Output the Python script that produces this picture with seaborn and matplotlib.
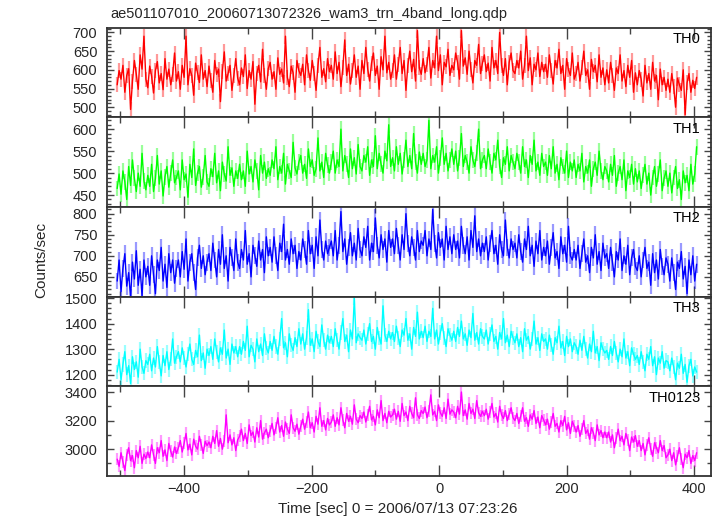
import numpy as np
import pandas as pd
import matplotlib
matplotlib.use("Agg")
import matplotlib.pyplot as plt
from matplotlib.ticker import MultipleLocator, FuncFormatter
import seaborn as sns

# time bins (sec), 3 s sampling
time = np.arange(-505, 405, 3)

th0 = [560, 598, 575, 612, 540, 585, 603, 494, 570, 625, 588, 548, 640, 602, 690, 575,
       552, 610, 583, 538, 598, 622, 565, 590, 547, 630, 575, 602, 560, 588, 645, 570,
       595, 548, 612, 580, 690, 560, 603, 585, 532, 618, 592, 566, 640, 575, 598, 555,
       610, 572, 540, 625, 588, 602, 515, 596, 648, 570, 590, 612, 545, 585, 630, 578,
       560, 605, 582, 640, 550, 598, 575, 622, 508, 590, 612, 568, 655, 585, 548, 603,
       620, 575, 595, 548, 632, 588, 602, 565, 690, 580, 555, 610, 592, 540, 625, 598,
       585, 615, 560, 640, 598, 572, 625, 590, 545, 612, 660, 580, 603, 568, 630, 595,
       612, 575, 648, 590, 620, 555, 605, 680, 585, 615, 562, 598, 640, 580, 610, 548,
       625, 590, 660, 602, 570, 618, 645, 585, 610, 548, 635, 600, 690, 592, 620, 575,
       598, 640, 575, 615, 660, 590, 625, 545, 612, 650, 595, 628, 570, 705, 605, 588,
       630, 592, 615, 660, 578, 625, 605, 690, 598, 640, 560, 620, 608, 655, 585, 612,
       600, 645, 620, 575, 705, 610, 632, 588, 650, 600, 565, 625, 612, 668, 590, 618,
       640, 595, 618, 570, 660, 605, 625, 590, 700, 612, 585, 630, 560, 620, 645, 598,
       590, 625, 605, 650, 575, 612, 690, 598, 632, 560, 615, 600, 645, 582, 620, 595,
       615, 580, 640, 598, 562, 625, 605, 655, 590, 612, 548, 630, 600, 585, 645, 575,
       590, 620, 570, 605, 650, 585, 600, 548, 628, 595, 612, 568, 640, 580, 605, 560,
       600, 565, 620, 585, 545, 605, 590, 640, 570, 598, 555, 612, 580, 625, 540, 592,
       560, 598, 575, 530, 612, 565, 590, 548, 620, 570, 585, 520, 602, 560, 580, 545,
       575, 540, 590, 555, 500, 578, 560, 545, 600, 480, 565, 590, 540, 572, 550, 580]

th1 = [465, 498, 452, 505, 480, 440, 515, 472, 530, 488, 458, 500, 470, 545, 482, 462,
       495, 470, 520, 458, 488, 540, 475, 505, 448, 492, 515, 468, 500, 530, 478, 490,
       505, 462, 530, 485, 498, 445, 520, 490, 555, 472, 500, 515, 468, 492, 540, 480,
       470, 510, 492, 545, 478, 505, 460, 525, 498, 482, 560, 495, 512, 470, 505, 488,
       520, 485, 505, 470, 550, 498, 515, 480, 530, 505, 462, 540, 500, 525, 488, 510,
       495, 530, 510, 560, 485, 515, 500, 545, 475, 520, 505, 490, 570, 512, 498, 525,
       540, 500, 520, 488, 555, 515, 530, 495, 510, 580, 505, 525, 490, 545, 518, 500,
       525, 550, 500, 530, 515, 600, 505, 540, 520, 490, 555, 510, 535, 498, 565, 515,
       505, 540, 525, 560, 495, 530, 515, 585, 510, 545, 520, 500, 550, 528, 610, 515,
       535, 505, 560, 520, 545, 498, 530, 575, 515, 540, 510, 590, 525, 500, 548, 520,
       545, 515, 530, 620, 510, 540, 525, 560, 500, 535, 580, 520, 545, 505, 530, 555,
       520, 550, 505, 535, 590, 515, 540, 525, 500, 560, 530, 515, 545, 600, 510, 530,
       540, 510, 555, 525, 500, 545, 530, 575, 515, 490, 535, 520, 560, 505, 540, 525,
       510, 545, 525, 500, 560, 515, 530, 490, 540, 520, 575, 505, 525, 495, 545, 515,
       525, 495, 540, 510, 560, 500, 520, 485, 535, 515, 500, 550, 490, 525, 505, 530,
       490, 520, 505, 545, 480, 515, 500, 530, 470, 510, 525, 495, 550, 505, 485, 515,
       505, 480, 520, 495, 540, 470, 500, 515, 485, 530, 460, 505, 490, 520, 475, 510,
       480, 505, 465, 495, 520, 475, 500, 450, 490, 515, 470, 498, 530, 460, 488, 505,
       470, 500, 455, 490, 515, 465, 485, 440, 505, 478, 495, 460, 520, 475, 498, 560]

th2 = [640, 690, 615, 670, 705, 628, 660, 600, 685, 645, 712, 630, 668, 605, 690, 650,
       675, 630, 700, 655, 610, 690, 665, 720, 640, 680, 625, 705, 660, 690, 635, 670,
       690, 650, 710, 668, 740, 640, 685, 705, 660, 620, 695, 725, 670, 700, 655, 685,
       705, 665, 730, 690, 650, 715, 680, 750, 670, 700, 640, 720, 695, 665, 740, 685,
       670, 715, 690, 760, 680, 705, 650, 725, 700, 675, 735, 690, 715, 660, 745, 700,
       720, 685, 745, 700, 665, 730, 710, 775, 690, 715, 680, 740, 705, 725, 670, 710,
       690, 740, 715, 680, 760, 705, 725, 670, 745, 700, 785, 715, 690, 735, 705, 720,
       735, 700, 760, 690, 725, 805, 710, 740, 680, 720, 755, 700, 730, 690, 765, 715,
       700, 745, 720, 770, 690, 730, 710, 790, 725, 695, 750, 715, 740, 685, 760, 720,
       740, 705, 765, 725, 690, 750, 715, 800, 730, 700, 745, 720, 690, 760, 710, 735,
       725, 760, 700, 740, 715, 810, 730, 695, 755, 720, 740, 690, 770, 715, 745, 705,
       750, 715, 735, 695, 770, 725, 705, 745, 690, 760, 720, 795, 710, 740, 700, 730,
       710, 745, 690, 730, 760, 705, 725, 680, 750, 715, 700, 785, 720, 695, 740, 715,
       730, 695, 750, 710, 685, 740, 715, 770, 700, 725, 675, 735, 705, 760, 690, 720,
       700, 735, 680, 720, 755, 695, 710, 670, 745, 705, 725, 685, 770, 700, 690, 715,
       690, 725, 670, 705, 740, 685, 700, 660, 720, 695, 750, 680, 710, 665, 730, 695,
       705, 670, 720, 685, 650, 710, 690, 740, 665, 700, 680, 725, 655, 695, 715, 675,
       665, 700, 650, 690, 720, 670, 685, 630, 705, 660, 690, 645, 715, 675, 655, 695,
       680, 640, 695, 660, 620, 685, 670, 710, 645, 675, 610, 690, 655, 700, 640, 680]

th3 = [1210, 1260, 1180, 1240, 1290, 1200, 1235, 1165, 1270, 1220, 1250, 1190, 1300, 1230, 1205, 1255,
       1240, 1280, 1215, 1265, 1230, 1310, 1250, 1195, 1275, 1235, 1290, 1220, 1260, 1340, 1245, 1270,
       1290, 1250, 1305, 1265, 1230, 1280, 1320, 1260, 1240, 1295, 1270, 1355, 1255, 1285, 1225, 1300,
       1275, 1310, 1260, 1340, 1290, 1250, 1305, 1280, 1375, 1265, 1300, 1240, 1320, 1285, 1310, 1270,
       1310, 1280, 1330, 1295, 1390, 1270, 1315, 1300, 1250, 1340, 1290, 1320, 1275, 1360, 1305, 1285,
       1330, 1295, 1350, 1310, 1280, 1340, 1420, 1305, 1325, 1270, 1360, 1315, 1295, 1345, 1310, 1380,
       1320, 1360, 1300, 1345, 1455, 1315, 1340, 1290, 1370, 1330, 1310, 1395, 1335, 1300, 1355, 1325,
       1350, 1310, 1380, 1335, 1300, 1365, 1420, 1330, 1355, 1290, 1375, 1340, 1500, 1325, 1360, 1345,
       1335, 1375, 1320, 1360, 1400, 1330, 1350, 1300, 1385, 1345, 1320, 1470, 1355, 1330, 1370, 1340,
       1365, 1330, 1390, 1345, 1310, 1375, 1355, 1420, 1335, 1360, 1300, 1385, 1350, 1445, 1340, 1370,
       1345, 1390, 1330, 1370, 1350, 1460, 1340, 1375, 1320, 1365, 1400, 1345, 1310, 1380, 1355, 1335,
       1370, 1330, 1385, 1350, 1410, 1340, 1360, 1315, 1375, 1345, 1440, 1335, 1365, 1320, 1380, 1350,
       1340, 1375, 1320, 1360, 1395, 1330, 1350, 1300, 1365, 1340, 1420, 1325, 1355, 1310, 1370, 1345,
       1325, 1360, 1310, 1345, 1290, 1380, 1335, 1350, 1300, 1340, 1410, 1320, 1345, 1295, 1360, 1330,
       1340, 1300, 1355, 1315, 1280, 1345, 1325, 1390, 1305, 1330, 1275, 1350, 1310, 1340, 1290, 1325,
       1310, 1280, 1335, 1295, 1350, 1300, 1265, 1320, 1290, 1370, 1285, 1310, 1255, 1325, 1300, 1285,
       1295, 1260, 1310, 1275, 1330, 1285, 1250, 1300, 1270, 1340, 1265, 1290, 1235, 1305, 1280, 1260,
       1275, 1240, 1290, 1250, 1215, 1280, 1260, 1310, 1235, 1270, 1200, 1265, 1245, 1290, 1225, 1255,
       1250, 1215, 1265, 1230, 1180, 1245, 1225, 1280, 1205, 1240, 1170, 1235, 1260, 1195, 1230, 1210]

th0123 = [2930, 2880, 2975, 2910, 2850, 2960, 3010, 2920, 2955, 2870, 2990, 2940, 3020, 2900, 2965, 2935,
          2980, 2940, 3030, 2960, 2900, 3010, 2975, 3060, 2950, 2995, 2920, 3040, 2985, 2945, 3015, 2970,
          3010, 3060, 2980, 3040, 3110, 2995, 3035, 2960, 3070, 3020, 3000, 3090, 3030, 2970, 3055, 3025,
          3050, 3010, 3090, 3040, 3130, 3020, 3075, 3000, 3060, 3240, 3045, 3100, 3030, 3080, 2990, 3065,
          3090, 3140, 3060, 3110, 3040, 3170, 3095, 3120, 3050, 3150, 3085, 3200, 3070, 3115, 3140, 3080,
          3130, 3180, 3100, 3150, 3220, 3120, 3165, 3090, 3190, 3140, 3110, 3240, 3150, 3125, 3175, 3105,
          3160, 3210, 3140, 3190, 3260, 3150, 3185, 3120, 3230, 3175, 3290, 3160, 3200, 3135, 3215, 3170,
          3190, 3240, 3160, 3220, 3170, 3290, 3205, 3150, 3250, 3195, 3230, 3175, 3310, 3210, 3185, 3235,
          3215, 3260, 3190, 3240, 3300, 3205, 3230, 3170, 3275, 3220, 3340, 3200, 3250, 3185, 3265, 3225,
          3240, 3280, 3210, 3265, 3195, 3320, 3235, 3260, 3200, 3300, 3250, 3220, 3360, 3240, 3215, 3270,
          3250, 3295, 3220, 3270, 3380, 3240, 3265, 3200, 3310, 3255, 3230, 3290, 3215, 3350, 3245, 3275,
          3260, 3220, 3300, 3245, 3400, 3235, 3275, 3210, 3320, 3250, 3280, 3215, 3340, 3255, 3230, 3265,
          3235, 3280, 3210, 3260, 3320, 3225, 3250, 3190, 3300, 3240, 3215, 3270, 3200, 3245, 3290, 3220,
          3200, 3250, 3180, 3230, 3290, 3195, 3220, 3160, 3240, 3210, 3270, 3180, 3225, 3150, 3235, 3205,
          3170, 3210, 3140, 3190, 3250, 3160, 3180, 3120, 3200, 3165, 3230, 3135, 3185, 3110, 3195, 3160,
          3120, 3165, 3090, 3140, 3200, 3110, 3135, 3070, 3150, 3115, 3060, 3170, 3100, 3130, 3080, 3120,
          3080, 3120, 3050, 3100, 3010, 3075, 3140, 3060, 3090, 3030, 3110, 3065, 2990, 3085, 3050, 3095,
          3020, 3060, 2990, 3040, 2960, 3030, 3080, 3000, 2950, 3045, 3010, 2975, 3060, 2990, 3025, 2940,
          2960, 3000, 2920, 2975, 2890, 2950, 3010, 2930, 2870, 2965, 2940, 2990, 2900, 2955, 2920, 2975]

bands = ["TH0", "TH1", "TH2", "TH3", "TH0123"]
series = [th0, th1, th2, th3, th0123]
errors = [20, 18, 20, 28, 42]
colors = ["#ff0000", "#00ff00", "#0000ff", "#00ffff", "#ff00ff"]
ylims = [(473, 713), (423, 627), (603, 816), (1154, 1506), (2812, 3440)]
ymajor = [50, 50, 50, 100, 200]
yminor = [10, 10, 10, 20, 100]

sns.set_style("white")
plt.rcParams["font.family"] = ["Liberation Sans", "DejaVu Sans"]

fig = plt.figure(figsize=(7.2, 5.16), dpi=100)
gs = fig.add_gridspec(5, 1, left=0.1486, right=0.987, top=0.9465,
                      bottom=0.0775, hspace=0)
axes = [fig.add_subplot(gs[i]) for i in range(5)]

for i, ax in enumerate(axes):
    vals = series[i]
    df = pd.DataFrame({"t": time[:len(vals)], "rate": vals})
    ax.errorbar(df["t"], df["rate"], yerr=errors[i], fmt="none",
                ecolor=colors[i], alpha=0.4, lw=1.6)
    sns.lineplot(data=df, x="t", y="rate", ax=ax, color=colors[i],
                 lw=1.0, estimator=None)
    ax.set_xlim(-521, 426)
    ax.set_ylim(*ylims[i])
    ax.set_xlabel("")
    ax.set_ylabel("")
    ax.yaxis.set_major_locator(MultipleLocator(ymajor[i]))
    ax.yaxis.set_minor_locator(MultipleLocator(yminor[i]))
    ax.xaxis.set_major_locator(MultipleLocator(200))
    ax.xaxis.set_minor_locator(MultipleLocator(100))
    ax.tick_params(which="both", direction="in", top=True, right=True,
                   bottom=True, left=True, color="#444444", width=1.0)
    ax.tick_params(axis="y", which="major", length=5, labelsize=10.5, pad=7)
    ax.tick_params(axis="y", which="minor", length=3)
    ax.tick_params(axis="x", which="major", length=8, labelsize=10.5, pad=4.5)
    ax.tick_params(axis="x", which="minor", length=4)
    ax.yaxis.set_major_formatter(FuncFormatter(lambda v, p: f"{int(round(v))}"))
    for sp in ax.spines.values():
        sp.set_color("#333333")
        sp.set_linewidth(1.3)
    ax.text(0.983, 0.95, bands[i], transform=ax.transAxes, ha="right",
            va="top", fontsize=10.5, color="black")
    if i < 4:
        ax.tick_params(axis="x", labelbottom=False)
    else:
        ax.xaxis.set_major_formatter(
            FuncFormatter(lambda v, p: f"{int(round(v))}".replace("-", "\u2212")))

fig.text(0.153, 0.973, "ae501107010_20060713072326_wam3_trn_4band_long.qdp",
         ha="left", va="center", fontsize=10.5)
fig.text(0.057, 0.497, "Counts/sec", rotation=90, ha="center", va="center",
         fontsize=11)
fig.text(0.553, 0.014, "Time [sec] 0 = 2006/07/13 07:23:26", ha="center",
         va="center", fontsize=11)

fig.savefig("out.png", dpi=100)
